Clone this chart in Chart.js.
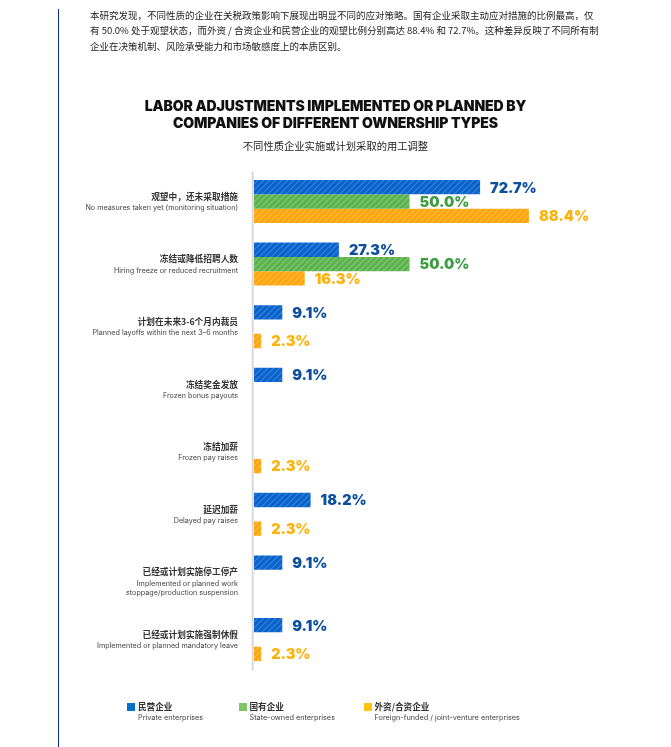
<!DOCTYPE html>
<html>
<head>
<meta charset="utf-8">
<script src="https://cdn.jsdelivr.net/npm/chart.js@4.4.0/dist/chart.umd.min.js"></script>
<style>
  html, body { margin: 0; padding: 0; background: #fff; }
  body { width: 671px; height: 747px; position: relative; overflow: hidden; font-family: "Noto Sans CJK SC", "Noto Sans", sans-serif; }
  .edge { position: absolute; left: 57.5px; top: 9px; width: 1.4px; height: 740px; background: #0b2e8c; }
  .intro { position: absolute; left: 90px; top: 7.5px; font-size: 9.5px; line-height: 15.8px; color: #222; white-space: nowrap; z-index: 2; }
  .title { position: absolute; left: 0; width: 671px; top: 98px; text-align: center; font-family: Inter, sans-serif; font-weight: 900; font-size: 14px; line-height: 16.7px; color: #111; letter-spacing: -0.1px; z-index: 2; }
  .sub { position: absolute; left: 0; width: 671px; top: 138px; text-align: center; font-size: 10.3px; color: #222; z-index: 2; }
  #wrap { position: absolute; left: 0; top: 0; width: 671px; height: 747px; }
  .legend { position: absolute; top: 700px; left: 0; z-index: 2; }
  .legend .item { position: absolute; top: 0; white-space: nowrap; }
  .legend .sw { position: absolute; left: 0; top: 3px; width: 8px; height: 8px; }
  .legend .zh { position: absolute; left: 11px; top: 0; font-size: 8.6px; font-weight: 700; color: #333; }
  .legend .en { position: absolute; left: 11px; top: 13px; font-family: Inter, sans-serif; font-size: 7.3px; color: #444; }
</style>
</head>
<body>
<div class="edge"></div>
<div class="intro">本研究发现，不同性质的企业在关税政策影响下展现出明显不同的应对策略。国有企业采取主动应对措施的比例最高，仅<br>有 50.0% 处于观望状态，而外资 / 合资企业和民营企业的观望比例分别高达 88.4% 和 72.7%。这种差异反映了不同所有制<br>企业在决策机制、风险承受能力和市场敏感度上的本质区别。</div>
<div class="title">LABOR ADJUSTMENTS IMPLEMENTED OR PLANNED BY<br>COMPANIES OF DIFFERENT OWNERSHIP TYPES</div>
<div class="sub">不同性质企业实施或计划采取的用工调整</div>
<div id="wrap"><canvas id="laborChart"></canvas></div>
<div class="legend" id="legend"></div>
<script>
// categories (Chinese line + English lines)
const categoriesZh = [
  '观望中，还未采取措施',
  '冻结或降低招聘人数',
  '计划在未来3-6个月内裁员',
  '冻结奖金发放',
  '冻结加薪',
  '延迟加薪',
  '已经或计划实施停工停产',
  '已经或计划实施强制休假'
];
const categoriesEn = [
  ['No measures taken yet (monitoring situation)'],
  ['Hiring freeze or reduced recruitment'],
  ['Planned layoffs within the next 3–6 months'],
  ['Frozen bonus payouts'],
  ['Frozen pay raises'],
  ['Delayed pay raises'],
  ['Implemented or planned work', 'stoppage/production suspension'],
  ['Implemented or planned mandatory leave']
];

const seriesZh = ['民营企业', '国有企业', '外资/合资企业'];
const seriesEn = ['Private enterprises', 'State-owned enterprises', 'Foreign-funded / joint-venture enterprises'];

// percent values, null = not reported
const privateValues = [72.7, 27.3, 9.1, 9.1, null, 18.2, 9.1, 9.1];
const stateValues   = [50.0, 50.0, null, null, null, null, null, null];
const foreignValues = [88.4, 16.3, 2.3, null, 2.3, 2.3, null, 2.3];

const barColors = [['#0a61c7', '#2f7fde'], ['#5bb14e', '#7cc56c'], ['#ffa40c', '#ffbb3a']];
const valueColors = ['#0c4f9f', '#3d9d41', '#ffb20a'];
const legendColors = ['#0070c8', '#7cc561', '#ffc20e'];
const legendLeft = [127, 238.5, 363.5];

function stripes(base, line) {
  const c = document.createElement('canvas');
  c.width = 6; c.height = 6;
  const g = c.getContext('2d');
  g.fillStyle = base;
  g.fillRect(0, 0, 6, 6);
  g.strokeStyle = line;
  g.lineWidth = 1.4;
  g.beginPath();
  g.moveTo(-1, 7); g.lineTo(7, -1);
  g.moveTo(-4, 4); g.lineTo(4, -4);
  g.moveTo(2, 10); g.lineTo(10, 2);
  g.stroke();
  return g.createPattern(c, 'repeat');
}

// legend
const legendEl = document.getElementById('legend');
seriesZh.forEach((name, i) => {
  const d = document.createElement('div');
  d.className = 'item';
  d.style.left = legendLeft[i] + 'px';
  d.innerHTML = `<div class="sw" style="background:${legendColors[i]}"></div>
    <div class="zh">${name}</div><div class="en">${seriesEn[i]}</div>`;
  legendEl.appendChild(d);
});

const textPlugin = {
  id: 'textPlugin',
  afterDatasetsDraw(chart) {
    const ctx = chart.ctx;
    const area = chart.chartArea;
    const yScale = chart.scales.y;
    ctx.save();

    // axis line
    ctx.strokeStyle = '#d8d8d8';
    ctx.lineWidth = 2;
    ctx.beginPath();
    ctx.moveTo(area.left - 1.3, area.top + 1);
    ctx.lineTo(area.left - 1.3, area.bottom);
    ctx.stroke();

    // category labels
    ctx.textAlign = 'right';
    ctx.textBaseline = 'middle';
    categoriesZh.forEach((zh, i) => {
      const y = yScale.getPixelForTick(i);
      const x = area.left - 16;
      ctx.fillStyle = '#333';
      ctx.font = '700 8.7px "Noto Sans CJK SC"';
      ctx.fillText(zh, x, y - 5);
      ctx.fillStyle = '#444';
      ctx.font = '7.2px Inter';
      categoriesEn[i].forEach((line, k) => {
        ctx.fillText(line, x, y + 6.5 + k * 9);
      });
    });

    // value labels
    ctx.textAlign = 'left';
    ctx.font = '900 14.5px Inter';
    chart.data.datasets.forEach((ds, di) => {
      const meta = chart.getDatasetMeta(di);
      meta.data.forEach((bar, i) => {
        const v = ds.data[i];
        if (v == null) return;
        ctx.fillStyle = valueColors[di];
        ctx.fillText(v.toFixed(1) + '%', bar.x + 10, bar.y + 1);
      });
    });
    ctx.restore();
  }
};

new Chart(document.getElementById('laborChart'), {
  type: 'bar',
  data: {
    labels: categoriesZh,
    datasets: [
      { label: seriesZh[0], data: privateValues, backgroundColor: stripes(...barColors[0]) },
      { label: seriesZh[1], data: stateValues, backgroundColor: stripes(...barColors[1]) },
      { label: seriesZh[2], data: foreignValues, backgroundColor: stripes(...barColors[2]) }
    ]
  },
  options: {
    indexAxis: 'y',
    responsive: true,
    maintainAspectRatio: false,
    animation: false,
    datasets: { bar: { categoryPercentage: 0.687, barPercentage: 1, borderWidth: 0 } },
    layout: { padding: { left: 254, right: 106, top: 170.2, bottom: 76.2 } },
    scales: {
      x: { display: false, min: 0, max: 100 },
      y: { display: false }
    },
    plugins: {
      legend: { display: false },
      tooltip: { enabled: false }
    }
  },
  plugins: [textPlugin]
});
</script>
</body>
</html>
